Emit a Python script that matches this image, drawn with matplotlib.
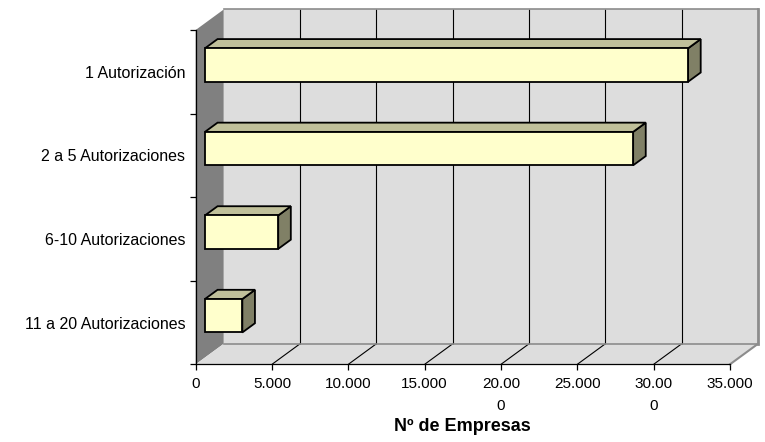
import numpy as np
import matplotlib
matplotlib.use("Agg")
import matplotlib.pyplot as plt
from matplotlib.patches import Polygon

# ---- data -----------------------------------------------------------------
categories = ["1 Autorización", "2 a 5 Autorizaciones",
              "6-10 Autorizaciones", "11 a 20 Autorizaciones"]
empresas = [31650, 28050, 4800, 2450]
x_ticks = [0, 5000, 10000, 15000, 20000, 25000, 30000, 35000]
x_tick_labels = ["0", "5.000", "10.000", "15.000", "20.00\n0",
                 "25.000", "30.00\n0", "35.000"]
x_title = "Nº de Empresas"

# ---- style ----------------------------------------------------------------
plt.rcParams['font.family'] = ['Liberation Sans', 'DejaVu Sans']
WALL = "#dddddd"
SIDE_WALL = "#808080"
EDGE = "#8c8c8c"
FRONT = "#ffffcc"
TOP = "#c0c09a"
SIDE = "#808066"

W, H, DPI = 765, 442, 100
fig = plt.figure(figsize=(W / DPI, H / DPI), dpi=DPI)
left, bottom, width, height = 195.7 / W, 77.7 / H, 534.3 / W, 334.3 / H
ax = fig.add_axes([left, bottom, width, height])
ax.patch.set_visible(False)

XMAX = x_ticks[-1]
n = len(categories)
y0, y1 = -0.5, n - 0.5
ax.set_xlim(0, XMAX)
ax.set_ylim(y0, y1)

# oblique depth of the 3-D box, converted to data units
DEPTH_PX = (28.0, 20.5)
ddx = DEPTH_PX[0] * XMAX / (width * W)
ddy = DEPTH_PX[1] * n / (height * H)


def at(x, y, d):
    return (x + d * ddx, y + d * ddy)


def poly(pts, fc, ec="none", lw=0.0, z=1):
    ax.add_patch(Polygon(pts, closed=True, facecolor=fc, edgecolor=ec,
                         linewidth=lw, clip_on=False, zorder=z,
                         joinstyle="miter"))


# back wall
poly([at(0, y0, 1), at(XMAX, y0, 1), at(XMAX, y1, 1), at(0, y1, 1)], WALL)
# left wall
poly([at(0, y0, 0), at(0, y1, 0), at(0, y1, 1), at(0, y0, 1)], SIDE_WALL)
# floor
poly([at(0, y0, 0), at(XMAX, y0, 0), at(XMAX, y0, 1), at(0, y0, 1)], WALL)

# gridlines on the back wall and the floor
for xv in x_ticks[1:-1]:
    ax.plot(*zip(at(xv, y0, 1), at(xv, y1, 1)), color="black", lw=0.8,
            clip_on=False, zorder=1.5, solid_capstyle="butt")
    ax.plot(*zip(at(xv, y0, 0), at(xv, y0, 1)), color="black", lw=0.8,
            clip_on=False, zorder=1.5, solid_capstyle="butt")

# outline of the box (top and right edges of the wall, right edge of floor)
ax.plot(*zip(at(0, y1, 1), at(XMAX, y1, 1)), color=EDGE, lw=1.2,
        clip_on=False, zorder=1.6)
ax.plot(*zip(at(XMAX, y0, 1), at(XMAX, y1, 1)), color=EDGE, lw=2.0,
        clip_on=False, zorder=1.6)
ax.plot(*zip(at(0, y0, 1), at(XMAX, y0, 1)), color=EDGE, lw=1.2,
        clip_on=False, zorder=1.6)
ax.plot(*zip(at(XMAX, y0, 0), at(XMAX, y0, 1)), color=EDGE, lw=1.5,
        clip_on=False, zorder=1.6)

# 3-D bars
BAR_H = 0.40
D_FRONT, D_BACK = 0.33, 0.78
ypos = np.arange(n)[::-1]
for yc, val in zip(ypos, empresas):
    b, t = yc - BAR_H / 2, yc + BAR_H / 2
    side = [at(val, b, D_FRONT), at(val, t, D_FRONT),
            at(val, t, D_BACK), at(val, b, D_BACK)]
    top = [at(0, t, D_FRONT), at(val, t, D_FRONT),
           at(val, t, D_BACK), at(0, t, D_BACK)]
    front = [at(0, b, D_FRONT), at(val, b, D_FRONT),
             at(val, t, D_FRONT), at(0, t, D_FRONT)]
    poly(side, SIDE, "black", 1.3, 3)
    poly(top, TOP, "black", 1.3, 3)
    poly(front, FRONT, "black", 1.3, 3)

# axes
for s in ("top", "right"):
    ax.spines[s].set_visible(False)
for s in ("left", "bottom"):
    ax.spines[s].set_color("black")
    ax.spines[s].set_linewidth(0.9)
    ax.spines[s].set_zorder(2.5)

ax.set_yticks(np.arange(n + 1) - 0.5)
ax.set_yticklabels([])
ax.set_yticks(ypos, minor=True)
ax.set_yticklabels(categories, minor=True, fontsize=11.5)
ax.tick_params(axis="y", which="major", direction="out", length=4.5,
               width=0.9, color="black")
ax.tick_params(axis="y", which="minor", length=0, pad=7.5)

ax.set_xticks(x_ticks)
ax.set_xticklabels(x_tick_labels, fontsize=11, linespacing=1.7)
ax.tick_params(axis="x", direction="out", length=4.5, width=0.9,
               color="black", pad=4.5)
ax.set_xlabel(x_title, fontsize=13, fontweight="bold", labelpad=4)

fig.savefig("out.png", dpi=DPI)
